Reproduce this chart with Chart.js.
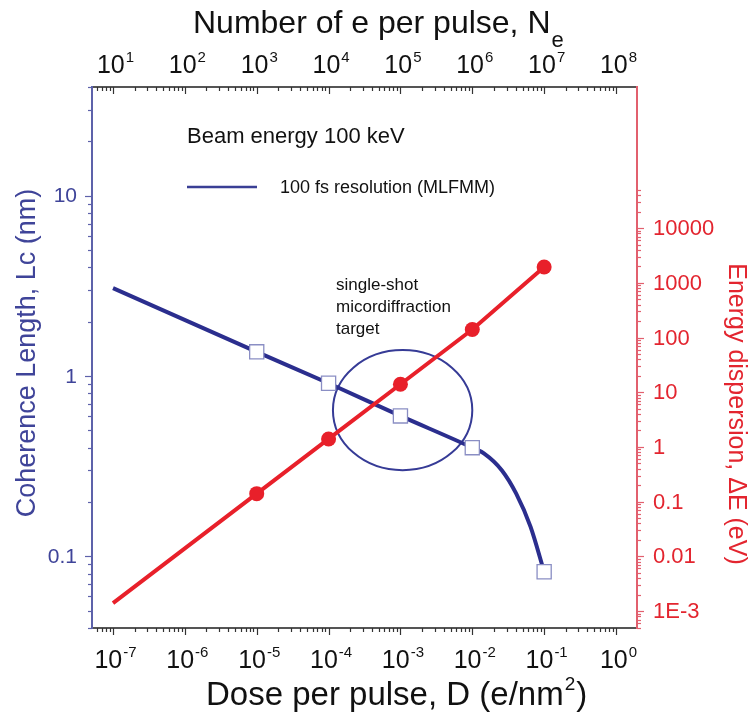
<!DOCTYPE html>
<html><head><meta charset="utf-8">
<script src="https://cdn.jsdelivr.net/npm/chart.js@4/dist/chart.umd.min.js"></script>
<style>html,body{margin:0;padding:0;background:#fff}#wrap{width:754px;height:719px;position:relative}</style>
</head><body><div id="wrap"><canvas id="c" width="754" height="719"></canvas></div>
<script>
// ---- data ----
const doseMajor = [1e-7,1e-6,1e-5,1e-4,1e-3,1e-2,1e-1,1e0];
const doseExp   = ['-7','-6','-5','-4','-3','-2','-1','0'];
const neMajor   = [1e1,1e2,1e3,1e4,1e5,1e6,1e7,1e8];
const neExp     = ['1','2','3','4','5','6','7','8'];
const lcTickVals   = [0.1,1,10];
const lcTickLabels = ['0.1','1','10'];
const dETickVals   = [1e-3,1e-2,1e-1,1,10,100,1000,10000];
const dETickLabels = ['1E-3','0.01','0.1','1','10','100','1000','10000'];

const lcCurveDose = [1e-7,1e-5,1e-4,1e-3,1e-2,0.0145,0.0257,0.0407,0.0646,0.1];
const lcCurveVal  = [3.07,1.36,0.91,0.60,0.40,0.372,0.30,0.223,0.146,0.082];
const markerDose  = [1e-5,1e-4,1e-3,1e-2,1e-1];
const lcMarkerVal = [1.36,0.91,0.60,0.40,0.082];
const dEDose = [1e-7,1e-5,1e-4,1e-3,1e-2,1e-1];
const dEVal  = [0.0014,0.14,1.4,14,140,1950];
const targetBox = {xMin:1.15e-4, xMax:1.0e-2, yMin:0.30, yMax:1.39};
const electronsPerDose = 1e8;

const FONT = "'Liberation Sans', Arial, sans-serif";
const BLUE = '#2b2e8e', BLUE_AX = '#5d62aa', BLUE_TXT = '#3f4499';
const RED = '#e8202a', RED_AX = '#e2606e', RED_TXT = '#e3252f';

function logTicks(min, max, cap){
  const out = [];
  for (let e = Math.floor(Math.log10(min)); e <= Math.ceil(Math.log10(max)); e++){
    for (let m = 1; m <= 9; m++){
      const v = m * Math.pow(10, e);
      if (v >= min*0.999 && v <= max*1.001 && (cap === undefined || v <= cap)) out.push({value: v, major: m === 1});
    }
  }
  return out;
}

function drawPow(ctx, base, exp, cx, baseline, size, expSize, rise){
  ctx.font = size + 'px ' + FONT;
  const wb = ctx.measureText(base).width;
  ctx.font = expSize + 'px ' + FONT;
  const we = ctx.measureText(exp).width;
  const x0 = cx - (wb + we)/2 + 2;
  ctx.textAlign = 'left'; ctx.textBaseline = 'alphabetic';
  ctx.font = size + 'px ' + FONT;
  ctx.fillText(base, x0, baseline);
  ctx.font = expSize + 'px ' + FONT;
  ctx.fillText(exp, x0 + wb + 1, baseline - rise);
}

const decor = {
  id: 'decor',
  beforeDatasetsDraw(chart){
    const {ctx} = chart; const xs = chart.scales.x, ys = chart.scales.y;
    const x1 = xs.getPixelForValue(targetBox.xMin), x2 = xs.getPixelForValue(targetBox.xMax);
    const y1 = ys.getPixelForValue(targetBox.yMax), y2 = ys.getPixelForValue(targetBox.yMin);
    ctx.save();
    ctx.strokeStyle = '#363b96'; ctx.lineWidth = 2;
    ctx.beginPath();
    ctx.ellipse((x1+x2)/2, (y1+y2)/2, (x2-x1)/2, (y2-y1)/2, 0, 0, Math.PI*2);
    ctx.stroke();
    ctx.restore();
  },
  afterDraw(chart){
    const {ctx, chartArea: a} = chart;
    const xs = chart.scales.x, xt = chart.scales.x2, ys = chart.scales.y, yr = chart.scales.y2;
    ctx.save();
    // tick marks
    ctx.lineWidth = 1.2;
    ctx.strokeStyle = '#333';
    xs.ticks.forEach(t => { const p = Math.round(xs.getPixelForValue(t.value))+0.5; const L = t.major?7:4;
      ctx.beginPath(); ctx.moveTo(p, a.bottom); ctx.lineTo(p, a.bottom + L); ctx.stroke(); });
    xt.ticks.forEach(t => { const p = Math.round(xt.getPixelForValue(t.value))+0.5; const L = t.major?7:4;
      ctx.beginPath(); ctx.moveTo(p, a.top); ctx.lineTo(p, a.top + L); ctx.stroke(); });
    ctx.strokeStyle = BLUE_AX;
    ys.ticks.forEach(t => { const p = Math.round(ys.getPixelForValue(t.value))+0.5; const L = t.major?7:4;
      ctx.beginPath(); ctx.moveTo(a.left, p); ctx.lineTo(a.left - L, p); ctx.stroke(); });
    ctx.strokeStyle = RED_AX;
    yr.ticks.forEach(t => { const p = Math.round(yr.getPixelForValue(t.value))+0.5; const L = t.major?7:4;
      ctx.beginPath(); ctx.moveTo(a.right, p); ctx.lineTo(a.right + L, p); ctx.stroke(); });

    // bottom / top tick labels
    ctx.fillStyle = '#111';
    doseMajor.forEach((v,i) => drawPow(ctx, '10', doseExp[i], xs.getPixelForValue(v), 668, 25, 15, 11));
    neMajor.forEach((v,i) => drawPow(ctx, '10', neExp[i], xt.getPixelForValue(v), 73, 25, 15, 11));

    // left tick labels
    ctx.fillStyle = BLUE_TXT; ctx.font = '21px ' + FONT; ctx.textAlign = 'right'; ctx.textBaseline = 'middle';
    lcTickVals.forEach((v,i) => ctx.fillText(lcTickLabels[i], a.left - 15, ys.getPixelForValue(v) + 1));
    // right tick labels
    ctx.fillStyle = RED_TXT; ctx.font = '22px ' + FONT; ctx.textAlign = 'left';
    dETickVals.forEach((v,i) => ctx.fillText(dETickLabels[i], a.right + 16, yr.getPixelForValue(v) + 1));

    // axis titles
    ctx.textBaseline = 'middle'; ctx.textAlign = 'center';
    ctx.save(); ctx.translate(28, 353); ctx.rotate(-Math.PI/2);
    ctx.fillStyle = BLUE_TXT; ctx.font = '27px ' + FONT; ctx.fillText('Coherence Length, Lc (nm)', 0, 0); ctx.restore();
    ctx.save(); ctx.translate(736, 414); ctx.rotate(Math.PI/2);
    ctx.fillStyle = RED_TXT; ctx.font = '25px ' + FONT; ctx.fillText('Energy dispersion, \u0394E (eV)', 0, 0); ctx.restore();

    ctx.fillStyle = '#111'; ctx.textAlign = 'left'; ctx.textBaseline = 'alphabetic';
    // bottom title with superscript
    ctx.font = '33px ' + FONT;
    const bt1 = 'Dose per pulse, D (e/nm', bt2 = '2', bt3 = ')';
    let bx = 206; ctx.fillText(bt1, bx, 705); bx += ctx.measureText(bt1).width;
    ctx.font = '19px ' + FONT; ctx.fillText(bt2, bx + 1, 690); bx += ctx.measureText(bt2).width + 2;
    ctx.font = '33px ' + FONT; ctx.fillText(bt3, bx, 705);
    // top title with subscript
    ctx.font = '32px ' + FONT;
    const tt1 = 'Number of e per pulse, N', tt2 = 'e';
    let tx = 193; ctx.fillText(tt1, tx, 33); tx += ctx.measureText(tt1).width;
    ctx.font = '22px ' + FONT; ctx.fillText(tt2, tx + 1, 47);

    // annotations
    ctx.font = '22px ' + FONT; ctx.fillStyle = '#111';
    ctx.fillText('Beam energy 100 keV', 187, 143);
    ctx.strokeStyle = '#3a3f95'; ctx.lineWidth = 2.5;
    ctx.beginPath(); ctx.moveTo(187, 187); ctx.lineTo(257, 187); ctx.stroke();
    ctx.font = '18px ' + FONT; ctx.textBaseline = 'middle';
    ctx.fillText('100 fs resolution (MLFMM)', 280, 188);
    ctx.font = '17px ' + FONT;
    ctx.fillText('single-shot', 336, 285);
    ctx.fillText('micordiffraction', 336, 307);
    ctx.fillText('target', 336, 329);
    ctx.restore();
  }
};

const markerSet = new Set(markerDose);
new Chart(document.getElementById('c'), {
  type: 'line',
  data: {
    datasets: [
      { label: 'Lc markers', data: markerDose.map((d,i) => ({x: d, y: lcMarkerVal[i]})),
        xAxisID: 'x', yAxisID: 'y', showLine: false, pointStyle: 'rect', pointRadius: 10,
        pointBackgroundColor: '#ffffff', pointBorderColor: '#8a8ec4', pointBorderWidth: 1.3, order: 0 },
      { label: '\u0394E', data: dEDose.map((d,i) => ({x: d, y: dEVal[i]})),
        xAxisID: 'x', yAxisID: 'y2', borderColor: RED, borderWidth: 4, tension: 0,
        pointRadius: c => markerSet.has(dEDose[c.dataIndex]) ? 7.5 : 0,
        pointBackgroundColor: RED, pointBorderColor: RED, pointBorderWidth: 0, order: 1 },
      { label: '100 fs resolution (MLFMM)', data: lcCurveDose.map((d,i) => ({x: d, y: lcCurveVal[i]})),
        xAxisID: 'x', yAxisID: 'y', borderColor: BLUE, borderWidth: 4, pointRadius: 0,
        cubicInterpolationMode: 'monotone', order: 2 }
    ]
  },
  options: {
    responsive: false, devicePixelRatio: 1, animation: false,
    layout: { padding: 0 },
    plugins: { legend: { display: false }, tooltip: { enabled: false }, title: { display: false } },
    scales: {
      x: { type: 'logarithmic', position: 'bottom', min: 5.1e-8, max: 1.96,
           ticks: { display: false }, grid: { display: false }, border: { display: true, color: '#555', width: 2 },
           afterBuildTicks: s => { s.ticks = logTicks(s.min, s.max); }, afterFit: s => { s.height = 91; } },
      x2: { type: 'logarithmic', position: 'top', min: 5.1e-8*electronsPerDose, max: 1.96*electronsPerDose,
           ticks: { display: false }, grid: { display: false }, border: { display: true, color: '#555', width: 2 },
           afterBuildTicks: s => { s.ticks = logTicks(s.min, s.max); }, afterFit: s => { s.height = 87; } },
      y: { type: 'logarithmic', position: 'left', min: 0.04, max: 40,
           ticks: { display: false }, grid: { display: false }, border: { display: true, color: BLUE_AX, width: 2 },
           afterBuildTicks: s => { s.ticks = logTicks(s.min, s.max); }, afterFit: s => { s.width = 92; } },
      y2: { type: 'logarithmic', position: 'right', min: 4.9e-4, max: 3.8e6,
           ticks: { display: false }, grid: { display: false }, border: { display: true, color: RED_AX, width: 2 },
           afterBuildTicks: s => { s.ticks = logTicks(s.min, s.max, 5e4); }, afterFit: s => { s.width = 117; } }
    }
  },
  plugins: [decor]
});
</script>
</body></html>
